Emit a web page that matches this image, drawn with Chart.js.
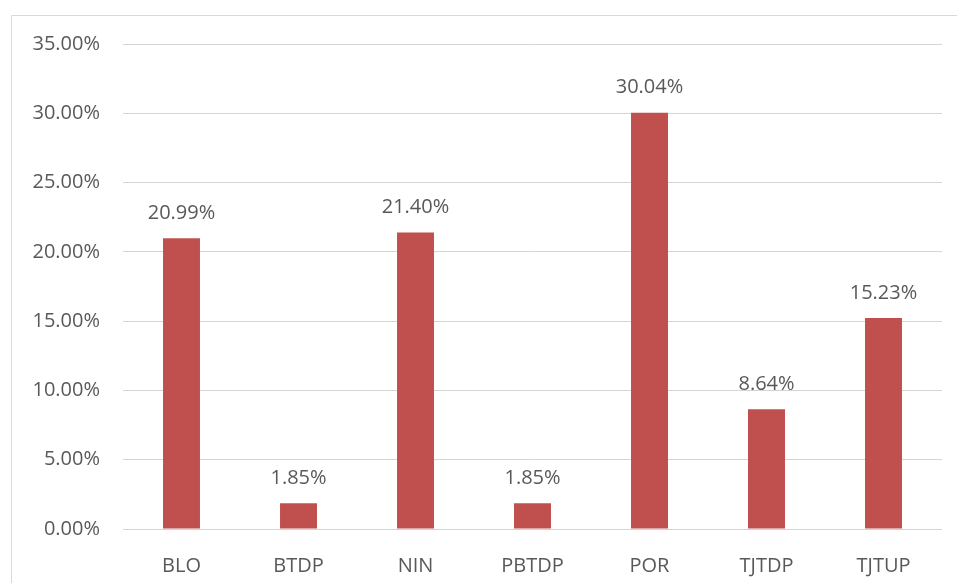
<!DOCTYPE html>
<html lang="en">
<head>
    <meta charset="UTF-8">
    <script src="https://cdn.jsdelivr.net/npm/chart.js"></script>
    <title>Chart</title>
    <style>
        html, body { margin: 0; padding: 0; background: #fff; }
        #wrap { position: relative; width: 957px; height: 583px; }
    </style>
</head>
<body>
    <div id="wrap"><canvas id="chart" width="957" height="583"></canvas></div>

    <script>
        const categories = ['BLO', 'BTDP', 'NIN', 'PBTDP', 'POR', 'TJTDP', 'TJTUP'];
        const shares = [20.99, 1.85, 21.40, 1.85, 30.04, 8.64, 15.23];

        const textColor = '#595959';
        const fontFamily = '"Open Sans", sans-serif';

        // outer frame, like the one round the original chart
        const frame = {
            id: 'frame',
            beforeDraw(chart) {
                const ctx = chart.ctx;
                ctx.save();
                ctx.strokeStyle = '#D9D9D9';
                ctx.lineWidth = 1;
                ctx.beginPath();
                ctx.moveTo(11.5, 600);
                ctx.lineTo(11.5, 15.5);
                ctx.lineTo(960, 15.5);
                ctx.stroke();
                ctx.restore();
            }
        };

        // value labels above the bars
        const barLabels = {
            id: 'barLabels',
            afterDatasetsDraw(chart) {
                const ctx = chart.ctx;
                const meta = chart.getDatasetMeta(0);
                ctx.save();
                ctx.fillStyle = textColor;
                ctx.font = '20px ' + fontFamily;
                ctx.textAlign = 'center';
                ctx.textBaseline = 'middle';
                meta.data.forEach((bar, i) => {
                    ctx.fillText(shares[i].toFixed(2) + '%', bar.x, bar.y - 25);
                });
                ctx.restore();
            }
        };

        new Chart(document.getElementById('chart'), {
            type: 'bar',
            data: {
                labels: categories,
                datasets: [{
                    data: shares,
                    backgroundColor: '#C0504D',
                    categoryPercentage: 1,
                    barPercentage: 0.316
                }]
            },
            options: {
                responsive: false,
                animation: false,
                layout: { padding: { left: 0, right: 15, top: 44, bottom: 0 } },
                plugins: {
                    legend: { display: false },
                    tooltip: { enabled: false }
                },
                scales: {
                    x: {
                        grid: { display: false },
                        border: { display: false },
                        ticks: {
                            color: textColor,
                            font: { family: fontFamily, size: 20 },
                            padding: 17
                        },
                        afterFit(axis) { axis.height = 54; }
                    },
                    y: {
                        min: 0,
                        max: 35,
                        border: { display: false },
                        grid: { color: '#D4D4D4', lineWidth: 1, drawTicks: false },
                        ticks: {
                            stepSize: 5,
                            color: textColor,
                            font: { family: fontFamily, size: 20 },
                            padding: 23,
                            callback: v => v.toFixed(2) + '%'
                        },
                        afterFit(axis) { axis.width = 123; }
                    }
                }
            },
            plugins: [frame, barLabels]
        });
    </script>
</body>
</html>
